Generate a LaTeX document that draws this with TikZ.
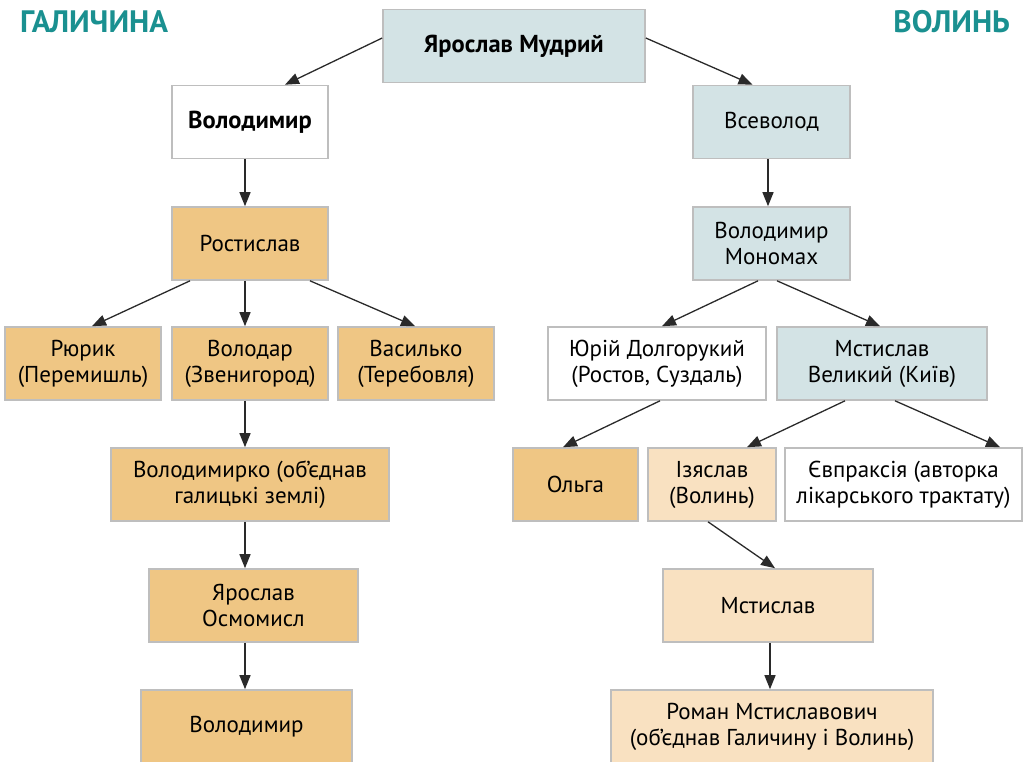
\documentclass[tikz,border=0pt]{standalone}
\usepackage{fontspec}
\setmainfont{PT Sans}
\usetikzlibrary{arrows.meta}
\definecolor{boxblue}{HTML}{D3E3E5}
\definecolor{boxorange}{HTML}{EFC684}
\definecolor{boxpale}{HTML}{F9E1C1}
\definecolor{boxline}{HTML}{BEBEBE}
\definecolor{landteal}{HTML}{1A9090}
\definecolor{arrowgray}{HTML}{2A2A2A}

\begin{document}
\begin{tikzpicture}[x=1pt,y=-1pt,
    kin/.style={draw=boxline,line width=1.6pt,align=center,minimum height=73pt,
        inner sep=0pt,font={\fontsize{23}{26}\selectfont}},
    kinbold/.style={font={\fontsize{24.5}{26}\selectfont\bfseries}},
    kinblue/.style={kin,fill=boxblue},
    kinorange/.style={kin,fill=boxorange},
    kinpale/.style={kin,fill=boxpale},
    kinwhite/.style={kin,fill=white},
    land/.style={text=landteal,font={\fontsize{31}{32}\selectfont\bfseries},inner sep=0pt},
    link/.style={draw=arrowgray,line width=1.3pt,-{Triangle[length=14pt,width=11pt]}}]
\useasboundingbox (0,0) rectangle (1024,761);
%\draw (0,0) rectangle (1024,761);

\node[land,anchor=north west] (galych) at (20,10) {ГАЛИЧИНА};
\node[land,anchor=north east] (volyn) at (1010,10) {ВОЛИНЬ};

\node[kinblue,kinbold,minimum width=262pt] (jm) at (514,46) {Ярослав Мудрий};
\node[kinwhite,kinbold,minimum width=156pt] (vol1) at (250,122) {Володимир};
\node[kinblue,minimum width=157pt] (vsev) at (771.5,122) {Всеволод};

% Галичина
\node[kinorange,minimum width=156pt] (rost) at (250,243.5) {Ростислав};
\node[kinorange,minimum width=156pt] (ryur) at (83,363.5) {Рюрик\\(Перемишль)};
\node[kinorange,minimum width=156pt] (volod) at (250,363.5) {Володар\\(Звенигород)};
\node[kinorange,minimum width=156pt] (vasyl) at (416,363.5) {Василько\\(Теребовля)};
\node[kinorange,minimum width=278pt] (vko) at (250,484.5) {Володимирко (об’єднав\\галицькі землі)};
\node[kinorange,minimum width=209pt] (osm) at (253.5,605.5) {Ярослав\\Осмомисл};
\node[kinorange,minimum width=211pt] (vol2) at (246.5,726.5) {Володимир};

% Волинь
\node[kinblue,minimum width=157pt] (mon) at (771.5,243.5) {Володимир\\Мономах};
\node[kinwhite,minimum width=218pt] (yur) at (657,363.5) {Юрій Долгорукий\\(Ростов, Суздаль)};
\node[kinblue,minimum width=210pt] (msv) at (882,363.5) {Мстислав\\Великий (Київ)};
\node[kinorange,minimum width=125pt] (olha) at (575.5,484.5) {Ольга};
\node[kinpale,minimum width=128pt] (izya) at (712,484.5) {Ізяслав\\(Волинь)};
\node[kinwhite,minimum width=237pt] (yevp) at (903.5,484.5) {Євпраксія (авторка\\лікарського трактату)};
\node[kinpale,minimum width=210pt] (msti) at (768,605.5) {Мстислав};
\node[kinpale,minimum width=322pt] (roman) at (772,726.5) {Роман Мстиславович\\(об’єднав Галичину і Волинь)};

\draw[link] ([yshift=8pt]jm.west) -- ([xshift=35pt]vol1.north);
\draw[link] ([yshift=8pt]jm.east) -- ([xshift=-19pt]vsev.north);

\draw[link] ([xshift=-5pt]vol1.south) -- ([xshift=-5pt]rost.north);
\draw[link] ([xshift=-60pt]rost.south) -- ([xshift=9pt]ryur.north);
\draw[link] ([xshift=-5pt]rost.south) -- ([xshift=-5pt]volod.north);
\draw[link] ([xshift=60pt]rost.south) -- ([xshift=-1pt]vasyl.north);
\draw[link] ([xshift=-5pt]volod.south) -- ([xshift=-5pt]vko.north);
\draw[link] ([xshift=-5pt]vko.south) -- ([xshift=-5pt]vko.south |- osm.north);
\draw[link] ([xshift=-8.5pt]osm.south) -- ([xshift=-8.5pt]osm.south |- vol2.north);

\draw[link] ([xshift=-3.5pt]vsev.south) -- ([xshift=-3.5pt]mon.north);
\draw[link] ([xshift=-13.5pt]mon.south) -- ([xshift=5pt]yur.north);
\draw[link] ([xshift=5.5pt]mon.south) -- ([xshift=-2pt]msv.north);
\draw[link] ([xshift=3pt]yur.south) -- ([xshift=-12.5pt]olha.north);
\draw[link] ([xshift=-37pt]msv.south) -- ([xshift=35pt]izya.north);
\draw[link] ([xshift=13pt]msv.south) -- ([xshift=96.5pt]yevp.north);
\draw[link] ([xshift=-4pt]izya.south) -- ([xshift=7pt]msti.north);
\draw[link] ([xshift=2pt]msti.south) -- ([xshift=-2pt]roman.north);
\end{tikzpicture}
\end{document}
